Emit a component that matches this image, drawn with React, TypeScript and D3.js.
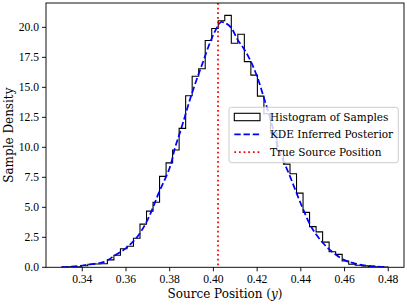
import React, { useEffect, useRef } from "react";
import * as d3 from "d3";

// sample histogram: 50 equal bins between the smallest and largest sample
const sampleMin = 0.3306;
const sampleMax = 0.4798;
const binDensities = [
  0.03, 0.04, 0.05, 0.13, 0.25, 0.27, 0.3, 0.62, 1.0, 1.55,
  1.75, 2.42, 3.6, 4.68, 5.42, 7.58, 8.7, 9.78, 11.58, 14.3,
  15.92, 16.55, 18.9, 19.9, 20.55, 21.0, 18.67, 19.42, 17.14, 16.02,
  14.27, 12.8, 11.2, 9.7, 8.6, 7.8, 6.18, 4.58, 3.39, 2.95,
  2.1, 1.3, 1.08, 0.53, 0.25, 0.17, 0.12, 0.08, 0.05, 0.03,
];

// KDE curve
const kdeX = [
  0.3306, 0.335, 0.34, 0.345, 0.35, 0.355, 0.36, 0.365, 0.37, 0.375,
  0.38, 0.3825, 0.385, 0.39, 0.395, 0.4, 0.4035, 0.405, 0.408, 0.411,
  0.414, 0.417, 0.42, 0.423, 0.426, 0.43, 0.435, 0.44, 0.445, 0.45,
  0.455, 0.46, 0.465, 0.47, 0.475, 0.4798,
];
const kdeY = [
  0.02, 0.06, 0.15, 0.28, 0.45, 1.0, 1.6, 2.5, 4.0, 6.2,
  8.3, 10.0, 11.4, 14.4, 17.0, 19.4, 20.45, 20.4, 20.0, 19.0,
  18.2, 17.2, 15.9, 14.2, 12.4, 9.8, 7.6, 5.3, 3.3, 2.05,
  1.2, 0.6, 0.3, 0.14, 0.06, 0.02,
];

const trueSourcePosition = 0.4021;

const xTicks = [0.34, 0.36, 0.38, 0.4, 0.42, 0.44, 0.46, 0.48];
const yTicks = [0, 2.5, 5, 7.5, 10, 12.5, 15, 17.5, 20];

const legendLabels = ["Histogram of Samples", "KDE Inferred Posterior", "True Source Position"];

const W = 407;
const H = 305;
const plot = { left: 46, right: 404, top: 3, bottom: 267.3 };
const tickFont = "'Liberation Serif', serif";
const textFont = "'DejaVu Serif', serif";

const App = () => {
  const svgRef = useRef(null);

  useEffect(() => {
    const svg = d3.select(svgRef.current);
    svg.selectAll("*").remove();

    const x = d3.scaleLinear().domain([0.3234, 0.4872]).range([plot.left, plot.right]);
    const y = d3.scaleLinear().domain([0, 22.03]).range([plot.bottom, plot.top]);

    svg.append("rect").attr("width", W).attr("height", H).attr("fill", "#fff");

    // clip to axes
    svg.append("defs").append("clipPath").attr("id", "ax-clip")
      .append("rect")
      .attr("x", plot.left).attr("y", plot.top)
      .attr("width", plot.right - plot.left).attr("height", plot.bottom - plot.top);

    const g = svg.append("g").attr("clip-path", "url(#ax-clip)");

    // step histogram outline
    const nBins = binDensities.length;
    const binW = (sampleMax - sampleMin) / nBins;
    const pts: [number, number][] = [[sampleMin, 0]];
    binDensities.forEach((d, i) => {
      pts.push([sampleMin + i * binW, d]);
      pts.push([sampleMin + (i + 1) * binW, d]);
    });
    pts.push([sampleMax, 0]);
    g.append("path")
      .attr("d", d3.line<[number, number]>().x((p) => x(p[0])).y((p) => y(p[1]))(pts))
      .attr("fill", "none")
      .attr("stroke", "#000")
      .attr("stroke-width", 1.1)
      .attr("stroke-linejoin", "miter");

    // KDE dashed
    const kde = kdeX.map((v, i) => [v, kdeY[i]] as [number, number]);
    g.append("path")
      .attr("d", d3.line<[number, number]>().x((p) => x(p[0])).y((p) => y(p[1])).curve(d3.curveCatmullRom)(kde))
      .attr("fill", "none")
      .attr("stroke", "#0000ff")
      .attr("stroke-width", 1.75)
      .attr("stroke-dasharray", "6.4,2.8");

    // true source position
    g.append("line")
      .attr("x1", x(trueSourcePosition)).attr("x2", x(trueSourcePosition))
      .attr("y1", plot.top).attr("y2", plot.bottom)
      .attr("stroke", "#ff0000")
      .attr("stroke-width", 1.75)
      .attr("stroke-dasharray", "1.75,2.9");

    // spines
    svg.append("rect")
      .attr("x", plot.left).attr("y", plot.top)
      .attr("width", plot.right - plot.left).attr("height", plot.bottom - plot.top)
      .attr("fill", "none")
      .attr("stroke", "#000")
      .attr("stroke-width", 0.93);

    // x ticks
    xTicks.forEach((t) => {
      svg.append("line")
        .attr("x1", x(t)).attr("x2", x(t))
        .attr("y1", plot.bottom).attr("y2", plot.bottom + 4)
        .attr("stroke", "#000").attr("stroke-width", 0.93);
      svg.append("text")
        .attr("x", x(t)).attr("y", plot.bottom + 15.5)
        .attr("text-anchor", "middle")
        .style("font-family", tickFont).style("font-size", "11.6px")
        .text(d3.format(".2f")(t));
    });

    // y ticks
    yTicks.forEach((t) => {
      svg.append("line")
        .attr("x1", plot.left - 4).attr("x2", plot.left)
        .attr("y1", y(t)).attr("y2", y(t))
        .attr("stroke", "#000").attr("stroke-width", 0.93);
      svg.append("text")
        .attr("x", plot.left - 7).attr("y", y(t) + 4)
        .attr("text-anchor", "end")
        .style("font-family", tickFont).style("font-size", "11.6px")
        .text(d3.format(".1f")(t));
    });

    // axis labels
    const xl = svg.append("text")
      .attr("x", (plot.left + plot.right) / 2).attr("y", 297.5)
      .attr("text-anchor", "middle")
      .style("font-family", textFont).style("font-size", "12px");
    xl.append("tspan").text("Source Position (");
    xl.append("tspan").style("font-style", "italic").text("y");
    xl.append("tspan").text(")");

    svg.append("text")
      .attr("transform", `translate(13,${(plot.top + plot.bottom) / 2}) rotate(-90)`)
      .attr("text-anchor", "middle")
      .style("font-family", textFont).style("font-size", "12px")
      .text("Sample Density");

    // legend
    const lg = svg.append("g");
    lg.append("rect")
      .attr("x", 229).attr("y", 107.3)
      .attr("width", 169.3).attr("height", 55.4)
      .attr("rx", 2.5)
      .attr("fill", "#fff").attr("fill-opacity", 0.8)
      .attr("stroke", "#cccccc").attr("stroke-width", 1);
    const rows = [117, 134.3, 152];
    lg.append("rect")
      .attr("x", 234.3).attr("y", rows[0] - 3.7)
      .attr("width", 25.7).attr("height", 7.4)
      .attr("fill", "none").attr("stroke", "#000").attr("stroke-width", 1.1);
    lg.append("line")
      .attr("x1", 234.3).attr("x2", 260).attr("y1", rows[1]).attr("y2", rows[1])
      .attr("stroke", "#0000ff").attr("stroke-width", 1.75).attr("stroke-dasharray", "6.4,2.8");
    lg.append("line")
      .attr("x1", 234.3).attr("x2", 260).attr("y1", rows[2]).attr("y2", rows[2])
      .attr("stroke", "#ff0000").attr("stroke-width", 1.75).attr("stroke-dasharray", "1.75,2.9");
    legendLabels.forEach((l, i) => {
      lg.append("text")
        .attr("x", 270).attr("y", rows[i] + 3.8)
        .style("font-family", textFont).style("font-size", "10.5px")
        .text(l);
    });
  }, []);

  return (
    <svg
      ref={svgRef}
      width={W}
      height={H}
      style={{ position: "absolute", left: 0, top: 0, display: "block" }}
    />
  );
};

export default App;
